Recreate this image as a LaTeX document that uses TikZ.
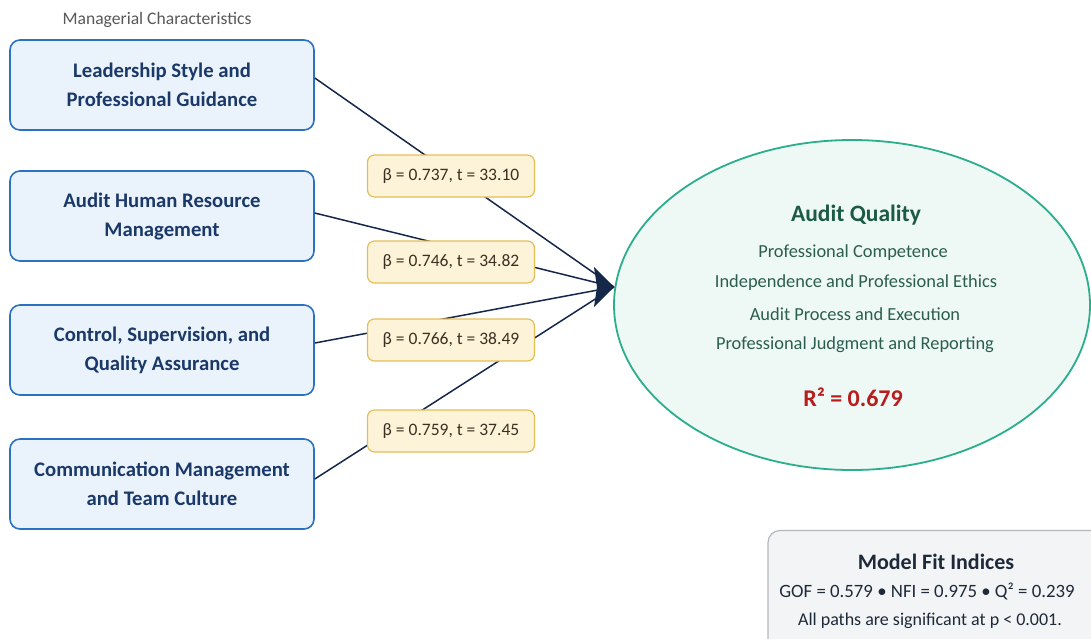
\documentclass[tikz,border=0pt]{standalone}
\usepackage{fontspec}
\setmainfont{Carlito}
\usetikzlibrary{arrows.meta,shapes.geometric}
\definecolor{boxblue}{HTML}{2A72C0}
\definecolor{boxfill}{HTML}{EAF3FC}
\definecolor{navy}{HTML}{1A3868}
\definecolor{linec}{HTML}{16284A}
\definecolor{lblfill}{HTML}{FDF3D8}
\definecolor{lbldraw}{HTML}{E5BE55}
\definecolor{lbltext}{HTML}{3A3122}
\definecolor{teal}{HTML}{2AAE8C}
\definecolor{tealfill}{HTML}{EEF8F5}
\definecolor{dkgreen}{HTML}{1C5A46}
\definecolor{midgreen}{HTML}{2B5E4E}
\definecolor{rred}{HTML}{B81C1C}
\definecolor{fitdraw}{HTML}{B5B8BC}
\definecolor{fitfill}{HTML}{F3F4F5}
\definecolor{fittext}{HTML}{1E2A3A}
\tikzset{
  charbox/.style={draw=boxblue, line width=1.6pt, fill=boxfill, rounded corners=10pt,
    minimum width=304pt, minimum height=90pt, align=center, text=navy,
    font=\fontsize{20.7}{29}\selectfont\bfseries},
  coef/.style={draw=lbldraw, line width=1.2pt, fill=lblfill, rounded corners=7pt,
    minimum width=167pt, minimum height=42pt, text=lbltext, font=\fontsize{17.5}{20}\selectfont},
  path/.style={draw=linec, line width=1.5pt},
  itemtxt/.style={text=midgreen, font=\fontsize{18.4}{20}\selectfont},
}
\begin{document}
\begin{tikzpicture}[x=1pt,y=-1pt]
\useasboundingbox (0,0) rectangle (1091,638);
\clip (0,0) rectangle (1091,638);
\fill[white] (0,0) rectangle (1091,638);

\node[text=black!65, font=\fontsize{17.6}{20}\selectfont] (hdr) at (157,20) {Managerial Characteristics};

\node[charbox] (b1) at (162,85) {Leadership Style and\\Professional Guidance};
\node[charbox] (b2) at (162,216) {Audit Human Resource\\Management};
\node[charbox] (b3) at (162,350) {Control, Supervision, and\\Quality Assurance};
\node[charbox] (b4) at (162,484) {Communication Management\\and Team Culture};

\node[draw=teal, line width=1.8pt, fill=tealfill, ellipse, minimum width=476pt, minimum height=330pt] (aq) at (852,305) {};

\coordinate (tip) at (614,287);
\coordinate (conv) at (597,287);

\draw[path] (b1.east |- 0,78) -- (tip);
\draw[path] (b2.east |- 0,213) -- (tip);
\draw[path] (b3.east |- 0,343) -- (tip);
\draw[path] (b4.east |- 0,479) -- (tip);
\draw[draw=linec, line width=1.5pt, -{Stealth[length=20pt,width=40pt,inset=3pt]}] (conv) -- (tip);

\node[coef] (c1) at (451,176) {β = 0.737, t = 33.10};
\node[coef] (c2) at (451,262) {β = 0.746, t = 34.82};
\node[coef] (c3) at (451,340) {β = 0.766, t = 38.49};
\node[coef] (c4) at (451,431) {β = 0.759, t = 37.45};

\node[text=dkgreen, font=\fontsize{23.5}{26}\selectfont\bfseries] (aqt) at (856,215) {Audit Quality};
\node[itemtxt] (i1) at (853,253) {Professional Competence};
\node[itemtxt] (i2) at (856,283) {Independence and Professional Ethics};
\node[itemtxt] (i3) at (855,314) {Audit Process and Execution};
\node[itemtxt] (i4) at (855,345) {Professional Judgment and Reporting};
\node[text=rred, font=\fontsize{24}{26}\selectfont\bfseries] (r2) at (853,397) {R² = 0.679};

\node[draw=fitdraw, line width=1.2pt, fill=fitfill, rounded corners=12pt, minimum width=340pt, minimum height=125pt] (fit) at (938,593) {};
\node[text=fittext, font=\fontsize{22}{24}\selectfont\bfseries] (ft) at (936,562) {Model Fit Indices};
\node[text=fittext, font=\fontsize{18.8}{21}\selectfont] (f1) at (927,591) {GOF = 0.579 • NFI = 0.975 • Q² = 0.239};
\node[text=fittext, font=\fontsize{18}{21}\selectfont] (f2) at (930,621) {All paths are significant at p < 0.001.};
\end{tikzpicture}
\end{document}
